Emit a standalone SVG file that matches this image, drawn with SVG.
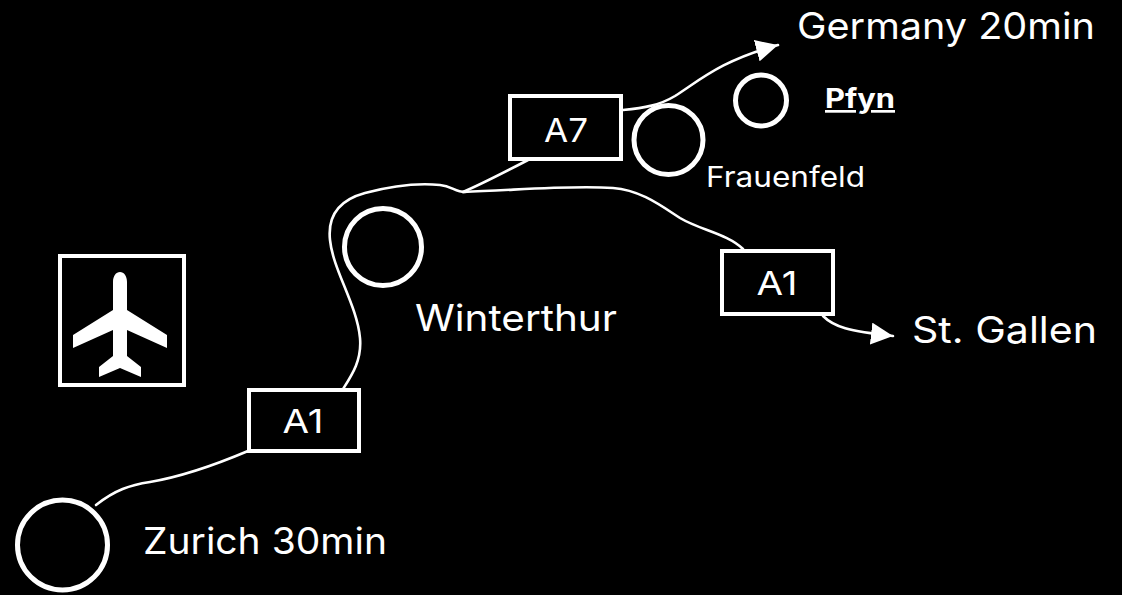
<svg xmlns="http://www.w3.org/2000/svg" width="1122" height="595" viewBox="0 0 1122 595">
<style>
.bg{fill:#000}
.ring{fill:none;stroke:#fff;stroke-width:5}
.box{fill:#000;stroke:#fff;stroke-width:4}
.road{fill:none;stroke:#fff;stroke-width:2.6;stroke-linecap:round}
.lbl{fill:#fff;font-family:Inter,"DejaVu Sans","Liberation Sans",sans-serif}
.big{font-size:37px}
.mid{font-size:28px}
.code{font-size:33px;text-anchor:middle}
</style>
<defs>
<marker id="arrow" markerUnits="userSpaceOnUse" viewBox="0 0 22 22" refX="22" refY="11" markerWidth="22" markerHeight="22" orient="auto">
<path d="M0,0 L22,11 L0,22 Z" fill="#fff"/>
</marker>
</defs>
<rect class="bg" x="0" y="0" width="1122" height="595"/>

<g id="connectors">
<path class="road" d="M96,505 C115,490 130,485 150,482 C185,476 215,465 248,451"/>
<path class="road" d="M343,389 C352,375 362,360 360,338 C357,305 333,270 330,240 C327,212 343,199 365,193 C395,185 420,183 440,185 C452,186 455,192 465,192"/>
<path class="road" d="M463,192 C482,184 505,172 528,160"/>
<path class="road" d="M463,192 C520,190 570,185 613,188 C640,190 660,205 680,218 C700,230 728,234 743,249"/>
<path class="road" d="M623,110 C645,108 660,105 675,96 C700,80 722,60 778,45" marker-end="url(#arrow)"/>
<path class="road" d="M823,316 C834,327 848,331 893,336" marker-end="url(#arrow)"/>
</g>

<g id="airport">
<rect class="box" x="60" y="256" width="124" height="129"/>
<path fill="#fff" d="M120,272 C124,272 127,276 127,282 L127,310 L167,335 L167,348 L127,330 L127,356 L141,367 L141,377 L120,368 L99,377 L99,367 L113,356 L113,330 L73,348 L73,335 L113,310 L113,282 C113,276 116,272 120,272 Z"/>
</g>

<g id="zurich">
<circle class="ring" cx="62.5" cy="545" r="45"/>
<text class="lbl big" x="143" y="554" textLength="244" lengthAdjust="spacingAndGlyphs">Zurich 30min</text>
</g>

<g id="a1-west">
<rect class="box" x="249" y="390" width="110" height="61"/>
<text class="lbl code" x="303" y="433" textLength="41" lengthAdjust="spacingAndGlyphs">A1</text>
</g>

<g id="winterthur">
<circle class="ring" cx="383" cy="247" r="38.5"/>
<text class="lbl big" x="415" y="331" textLength="202" lengthAdjust="spacingAndGlyphs">Winterthur</text>
</g>

<g id="a7">
<rect class="box" x="510" y="96" width="111" height="63"/>
<text class="lbl code" x="566" y="142" textLength="44" lengthAdjust="spacingAndGlyphs">A7</text>
</g>

<g id="frauenfeld">
<circle class="ring" cx="668.5" cy="140" r="34.5" stroke-width="5.5"/>
<text class="lbl mid" x="706" y="187" textLength="159" lengthAdjust="spacingAndGlyphs">Frauenfeld</text>
</g>

<g id="pfyn">
<circle class="ring" cx="761" cy="100.5" r="25.5"/>
<text class="lbl" x="825" y="108" font-size="27" font-weight="bold" text-decoration="underline" textLength="70" lengthAdjust="spacingAndGlyphs">Pfyn</text>
</g>

<g id="a1-east">
<rect class="box" x="722" y="251" width="111" height="63"/>
<text class="lbl code" x="777" y="295" textLength="41" lengthAdjust="spacingAndGlyphs">A1</text>
</g>

<g id="germany">
<text class="lbl big" x="797" y="39" textLength="298" lengthAdjust="spacingAndGlyphs">Germany 20min</text>
</g>

<g id="st-gallen">
<text class="lbl big" x="912" y="343" textLength="185" lengthAdjust="spacingAndGlyphs">St. Gallen</text>
</g>
</svg>
